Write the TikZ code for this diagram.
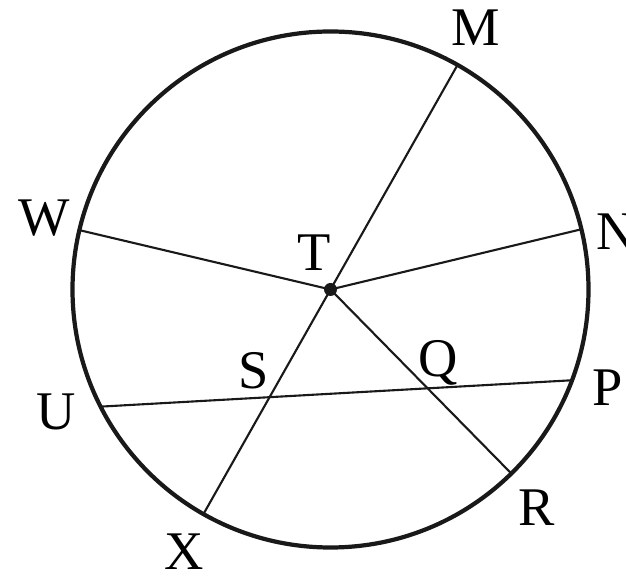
\documentclass[tikz,border=0pt]{standalone}
\usepackage{fontspec}
\setmainfont{Liberation Serif}
\usetikzlibrary{calc}
\begin{document}
\begin{tikzpicture}[x=0.02cm,y=0.02cm,
  lbl/.style={inner sep=0pt,text depth=0pt,font=\fontsize{31}{31}\selectfont},
  seg/.style={line width=1.2pt,black!90},
  rim/.style={line width=2.4pt,black!90}]
\useasboundingbox (0,0) rectangle (626,578);
\coordinate (T) at (330.5,288.5);
\def\R{258}
\coordinate (M) at ($(T)+(60.5:\R)$);
\coordinate (W) at ($(T)+(166.7:\R)$);
\coordinate (N) at ($(T)+(13.5:\R)$);
\coordinate (U) at ($(T)+(207:\R)$);
\coordinate (P) at ($(T)+(-20.6:\R)$);
\coordinate (X) at ($(T)+(240.5:\R)$);
\coordinate (R) at ($(T)+(-45.5:\R)$);
\draw[rim] (T) circle (\R);
\draw[seg] (T) -- (M);
\draw[seg] (T) -- (W);
\draw[seg] (T) -- (N);
\draw[seg] (T) -- (X);
\draw[seg] (T) -- (R);
\draw[seg] (U) -- (P);
\fill[black!90] (T) circle (6.5);
\node[lbl] (lM) at (476,550) {M};
\node[lbl] (lW) at (44,360) {W};
\node[lbl] (lN) at (616,346) {N};
\node[lbl] (lT) at (314,325) {T};
\node[lbl] (lU) at (56,166) {U};
\node[lbl] (lP) at (608,190) {P};
\node[lbl] (lX) at (184,26) {X};
\node[lbl] (lR) at (537,70) {R};
\node[lbl] (lS) at (254,208) {S};
\node[lbl] (lQ) at (438,220) {Q};
\end{tikzpicture}
\end{document}
